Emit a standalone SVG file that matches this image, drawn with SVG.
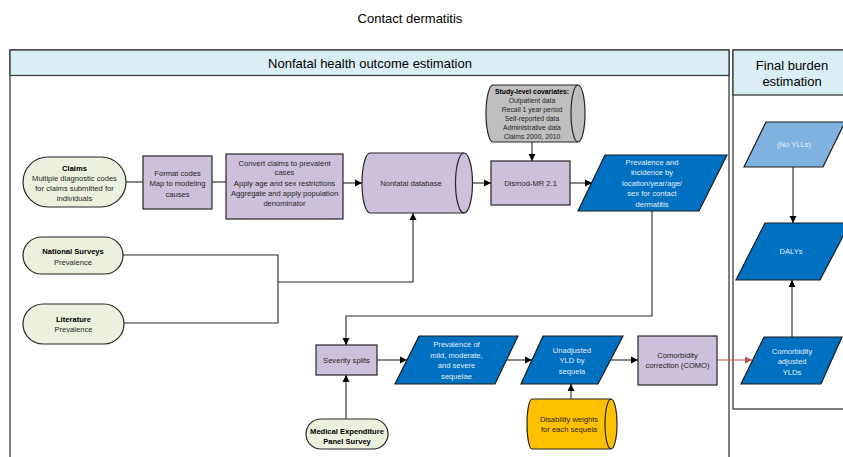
<svg xmlns="http://www.w3.org/2000/svg" width="843" height="457" viewBox="0 0 843 457">
<defs>
<marker id="arr" markerUnits="userSpaceOnUse" markerWidth="8" markerHeight="8" refX="7" refY="4" orient="auto">
<path d="M0,0.5 L7,4 L0,7.5 Z" fill="#000"/>
</marker>
<marker id="arrR" markerUnits="userSpaceOnUse" markerWidth="8" markerHeight="8" refX="7" refY="4" orient="auto">
<path d="M0,0.5 L7,4 L0,7.5 Z" fill="#C0504D"/>
</marker>
</defs>
<style>
text{font-family:"Liberation Sans",Arial,sans-serif;text-anchor:middle}
.t{font-size:7.6px;fill:#262626}
.b{font-weight:bold;fill:#000}
.w{font-size:7.6px;fill:#E6EEF8}
.h{font-size:13px;fill:#000}
.panel{fill:none;stroke:#3a3a3a;stroke-width:1.3}
.hdr{fill:#DAEEF3;stroke:#3a3a3a;stroke-width:1.3}
.box{fill:#CCC0DA;stroke:#262626;stroke-width:1.2}
.stad{fill:#EBF1DE;stroke:#262626;stroke-width:1.2}
.par{fill:#0070C0;stroke:#1a1a1a;stroke-width:1.2}
.parl{fill:#7FB2DE;stroke:#1a1a1a;stroke-width:1.2}
.cyl{stroke:#262626;stroke-width:1.2}
.c{fill:none;stroke:#262626;stroke-width:1.1}
.ca{fill:none;stroke:#262626;stroke-width:1.1;marker-end:url(#arr)}
.cr{fill:none;stroke:#C0504D;stroke-width:1.1;marker-end:url(#arrR)}
</style>
<rect width="843" height="457" fill="#fff"/>
<text class="h" x="410" y="23">Contact dermatitis</text>

<g id="panel-nonfatal">
<rect class="panel" x="10" y="50" width="719" height="420"/>
<rect class="hdr" x="10" y="50" width="719" height="25.5"/>
<text class="h" x="370" y="67.5">Nonfatal health outcome estimation</text>
</g>
<g id="panel-final">
<rect class="panel" x="733" y="50" width="120" height="359"/>
<rect class="hdr" x="733" y="50" width="120" height="45"/>
<text class="h" x="792" y="69.5">Final burden</text>
<text class="h" x="792" y="85.5">estimation</text>
</g>

<g id="connectors">
<line class="c" x1="126" y1="182" x2="143" y2="182"/>
<line class="c" x1="212" y1="182" x2="226" y2="182"/>
<line class="ca" x1="343" y1="183" x2="362" y2="183"/>
<line class="ca" x1="463" y1="183" x2="491" y2="183"/>
<line class="ca" x1="532" y1="142" x2="532" y2="161"/>
<line class="ca" x1="570" y1="183" x2="592" y2="183"/>
<polyline class="c" points="123,255 278,255 278,323 124,323"/>
<polyline class="ca" points="278,282 413,282 413,213"/>
<polyline class="ca" points="652,211 652,316 346,316 346,345"/>
<line class="ca" x1="346" y1="419" x2="346" y2="375"/>
<line class="ca" x1="377" y1="360" x2="407" y2="360"/>
<line class="ca" x1="507" y1="360" x2="532" y2="360"/>
<line class="ca" x1="611" y1="360" x2="638" y2="360"/>
<line class="ca" x1="571" y1="399" x2="571" y2="384"/>
<line class="cr" x1="717" y1="360" x2="752" y2="360"/>
<line class="ca" x1="792" y1="337" x2="792" y2="280"/>
<line class="ca" x1="793" y1="167" x2="793" y2="223"/>
</g>

<g id="claims">
<rect class="stad" x="23" y="157" width="103" height="50" rx="25" ry="25"/>
<text class="t b" x="74.5" y="171">Claims</text>
<text class="t" x="74.5" y="180.5">Multiple diagnostic codes</text>
<text class="t" x="74.5" y="190.5">for claims submitted for</text>
<text class="t" x="74.5" y="200.5">individuals</text>
</g>
<g id="format-codes">
<rect class="box" x="143" y="156" width="69" height="53"/>
<text class="t" x="177.5" y="175.5">Format codes</text>
<text class="t" x="177.5" y="186">Map to modeling</text>
<text class="t" x="177.5" y="196.5">causes</text>
</g>
<g id="convert-claims">
<rect class="box" x="226" y="154" width="117" height="65"/>
<text class="t" x="284.5" y="165.5">Convert claims to prevalent</text>
<text class="t" x="284.5" y="175">cases</text>
<text class="t" x="284.5" y="185.5">Apply age and sex restrictions</text>
<text class="t" x="284.5" y="195.5">Aggregate and apply population</text>
<text class="t" x="284.5" y="205.5">denominator</text>
</g>
<g id="nonfatal-database">
<path class="cyl" fill="#CCC0DA" d="M370,153 L464,153 A8.5,30 0 0 1 464,213 L370,213 A8,30 0 0 1 370,153 Z"/>
<path class="cyl" fill="none" d="M464,153 A8.5,30 0 0 0 464,213"/>
<text class="t" x="411" y="185.5">Nonfatal database</text>
</g>
<g id="covariates">
<path class="cyl" fill="#BFBFBF" d="M493,85 L578,85 A7,28.5 0 0 1 578,142 L493,142 A7,28.5 0 0 1 493,85 Z"/>
<path class="cyl" fill="none" d="M578,85 A7,28.5 0 0 0 578,142"/>
<text class="b" style="font-size:6.8px" x="532" y="93.5">Study-level covariates:</text>
<text class="t" style="font-size:6.8px" x="532" y="102.5">Outpatient data</text>
<text class="t" style="font-size:6.8px" x="532" y="111.5">Recall 1 year period</text>
<text class="t" style="font-size:6.8px" x="532" y="121">Self-reported data</text>
<text class="t" style="font-size:6.8px" x="532" y="130">Administrative data</text>
<text class="t" style="font-size:6.8px" x="532" y="139">Claims 2000, 2010</text>
</g>
<g id="dismod">
<rect class="box" x="491" y="161" width="79" height="44"/>
<text class="t" x="530.5" y="185.5">Dismod-MR 2.1</text>
</g>
<g id="prevalence-incidence">
<polygon class="par" points="605,155 727,155 699,211 578,211"/>
<text class="w" x="652" y="164.5">Prevalence and</text>
<text class="w" x="652" y="175">incidence by</text>
<text class="w" x="652" y="185.5">location/year/age/</text>
<text class="w" x="652" y="196">sex for contact</text>
<text class="w" x="652" y="206.5">dermatitis</text>
</g>
<g id="national-surveys">
<rect class="stad" x="23" y="237" width="100" height="37" rx="18.5" ry="18.5"/>
<text class="t b" x="73" y="253.5">National Surveys</text>
<text class="t" x="73" y="264.5">Prevalence</text>
</g>
<g id="literature">
<rect class="stad" x="23" y="304" width="101" height="40" rx="20" ry="20"/>
<text class="t b" x="73.5" y="321.5">Literature</text>
<text class="t" x="73.5" y="332">Prevalence</text>
</g>
<g id="severity-splits">
<rect class="box" x="316" y="345" width="61" height="30"/>
<text class="t" x="346.5" y="362.5">Severity splits</text>
</g>
<g id="meps">
<rect class="stad" x="306" y="419" width="82" height="30" rx="15" ry="15"/>
<text class="t b" x="347" y="433.5">Medical Expenditure</text>
<text class="t b" x="347" y="443.5">Panel Survey</text>
</g>
<g id="prevalence-sequelae">
<polygon class="par" points="419,336 518,336 495,384 395,384"/>
<text class="w" x="456.5" y="346.5">Prevalence of</text>
<text class="w" x="456.5" y="357.5">mild, moderate,</text>
<text class="w" x="456.5" y="367.5">and severe</text>
<text class="w" x="456.5" y="378.5">sequelae</text>
</g>
<g id="unadjusted-yld">
<polygon class="par" points="543,336 623,336 598,384 521,384"/>
<text class="w" x="572" y="352.5">Unadjusted</text>
<text class="w" x="572" y="363">YLD by</text>
<text class="w" x="572" y="373.5">sequela</text>
</g>
<g id="disability-weights">
<path class="cyl" fill="#FFC000" d="M532,399 L611,399 A6,25 0 0 1 611,449 L532,449 A5,25 0 0 1 532,399 Z"/>
<path class="cyl" fill="none" d="M611,399 A6,25 0 0 0 611,449"/>
<text class="t" x="569" y="421.5" fill="#1a1a1a">Disability weights</text>
<text class="t" x="569" y="431.5" fill="#1a1a1a">for each sequela</text>
</g>
<g id="como">
<rect class="box" x="638" y="336" width="79" height="49"/>
<text class="t" x="677.5" y="357.5">Comorbidity</text>
<text class="t" x="677.5" y="368">correction (COMO)</text>
</g>
<g id="no-ylls">
<polygon class="parl" points="766,122 845,122 823,167 744,167"/>
<text class="w" x="794" y="147">(No YLLs)</text>
</g>
<g id="dalys">
<polygon class="par" points="765,223 850,223 820,280 736,280"/>
<text class="w" x="791" y="254">DALYs</text>
</g>
<g id="comorbidity-adjusted">
<polygon class="par" points="764,337 842,337 821,384 741,384"/>
<text class="w" x="792" y="353.5">Comorbidity</text>
<text class="w" x="792" y="364">adjusted</text>
<text class="w" x="792" y="374.5">YLDs</text>
</g>
</svg>
